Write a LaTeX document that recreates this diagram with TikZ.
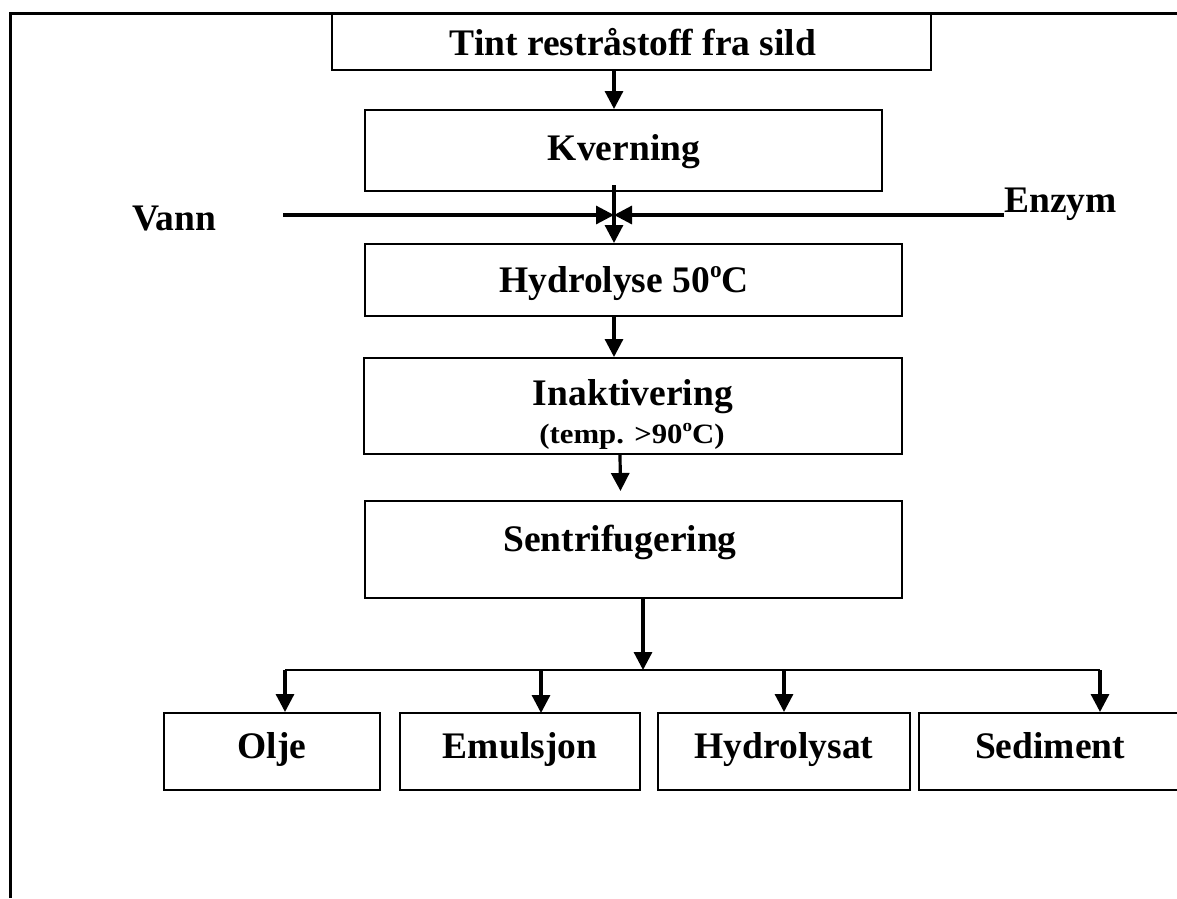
\documentclass[tikz,border=0pt]{standalone}
\usepackage{fontspec}
\setmainfont{Liberation Serif}
\usetikzlibrary{arrows.meta}
\newcommand\supo{\raisebox{0.4em}{\fontsize{0.62em}{0.62em}\selectfont o}}
\begin{document}
\begin{tikzpicture}[x=1pt,y=-1pt,
  box/.style={draw,line width=2pt,rectangle,inner sep=0pt},
  lbl/.style={font=\fontsize{37.5}{40}\selectfont\bfseries,inner sep=0pt,anchor=base},
  sublbl/.style={font=\fontsize{28}{30}\selectfont\bfseries,inner sep=0pt,anchor=base},
  flow/.style={line width=3.2pt,-{Triangle[length=18pt,width=18pt]}},
  thin/.style={line width=2pt}]
\useasboundingbox (0,0) rectangle (1177,898);
% frame
\draw[line width=3pt] (10,898) -- (10,13) -- (1190,13);
% boxes
\node[box,minimum width=599pt,minimum height=56pt] (b1) at (631.5,42) {};
\node[box,minimum width=517pt,minimum height=81pt] (b2) at (623.5,150.5) {};
\node[box,minimum width=537pt,minimum height=72pt] (b3) at (633.5,280) {};
\node[box,minimum width=538pt,minimum height=96pt] (b4) at (633,406) {};
\node[box,minimum width=537pt,minimum height=97pt] (b5) at (633.5,549.5) {};
\node[box,minimum width=216pt,minimum height=77pt] (o1) at (272,751.5) {};
\node[box,minimum width=240pt,minimum height=77pt] (o2) at (520,751.5) {};
\node[box,minimum width=252pt,minimum height=77pt] (o3) at (784,751.5) {};
\node[box,minimum width=272pt,minimum height=77pt] (o4) at (1055,751.5) {};
% texts
\node[lbl] (t1) at (633,55) {Tint restråstoff fra sild};
\node[lbl] (t2) at (624,160) {Kverning};
\node[lbl] (t3) at (624,292) {Hydrolyse 50\supo C};
\node[lbl] (t4) at (633,405) {Inaktivering};
\node[sublbl] (t4b) at (632,443) {\scalebox{1.1}[1]{(temp. >90\supo C)}};
\node[lbl] (t5) at (620,551) {Sentrifugering};
\node[lbl] (t6) at (272,758) {Olje};
\node[lbl] (t7) at (520,758) {Emulsjon};
\node[lbl] (t8) at (784,758) {Hydrolysat};
\node[lbl] (t9) at (1050,758) {Sediment};
\node[lbl,anchor=base west] (vann) at (132,230) {Vann};
\node[lbl,anchor=base west] (enzym) at (1004,212) {Enzym};
% coordinates
\coordinate (j) at (614,215);
\coordinate (vs) at (283,215);
\coordinate (es) at (1004,215);
\coordinate (ks) at (614,185);
\coordinate (br) at (643,670);
\coordinate (bl) at (285,670);
\coordinate (brr) at (1100,670);
% connectors
\draw[flow] (b1.south -| j) -- (b2.north -| j);
\draw[flow] (ks) -- (b3.north -| j);
\draw[flow] (vs) -- (j);
\draw[flow] (es) -- (j);
\draw[flow] (b3.south -| j) -- (b4.north -| j);
\draw[flow] ([xshift=-13pt]b4.south) -- ([xshift=-13pt,yshift=9pt]b5.north);
\draw[flow] (b5.south -| br) -- (br);
\draw[thin] (bl) -- (brr);
\draw[flow] (bl) -- (bl |- o1.north);
\draw[flow] (541,670) -- (541,713);
\draw[flow] (o3.north |- br) -- (o3.north);
\draw[flow] (brr) -- (brr |- o4.north);
\end{tikzpicture}
\end{document}
